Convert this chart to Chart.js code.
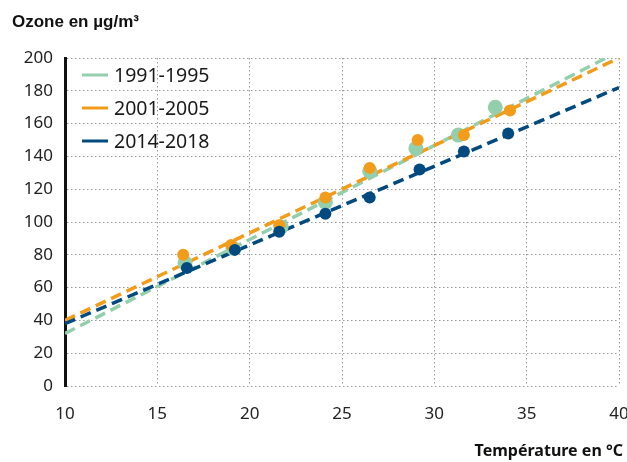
<!DOCTYPE html>
<html>
<head>
<meta charset="utf-8">
<script src="https://cdn.jsdelivr.net/npm/chart.js@4/dist/chart.umd.min.js"></script>
<style>
  html,body{margin:0;padding:0;background:#fff;}
  #wrap{width:627px;height:462px;position:relative;}
</style>
</head>
<body>
<div id="wrap"><canvas id="c" width="627" height="462"></canvas></div>
<script>
// ---- Data ----
const seriesLabels = ['1991-1995', '2001-2005', '2014-2018'];
const temps1991 = [16.5, 19.1, 21.7, 24.1, 26.5, 29.0, 31.3, 33.3];
const ozone1991 = [75, 84, 97, 112, 131, 145, 153, 170];
const temps2001 = [16.4, 19.0, 21.6, 24.1, 26.5, 29.1, 31.6, 34.1];
const ozone2001 = [80, 86, 98, 115, 133, 150, 153, 168];
const temps2014 = [16.6, 19.2, 21.6, 24.1, 26.5, 29.2, 31.6, 34.0];
const ozone2014 = [72, 83, 94, 105, 115, 132, 143, 154];
// trend lines: value at x = 10 and x = 40
const trendX = [10, 40];
const trend1991 = [32, 204];
const trend2001 = [40, 200];
const trend2014 = [38, 182];
const xTicks = [10, 15, 20, 25, 30, 35, 40];
const yTicks = [0, 20, 40, 60, 80, 100, 120, 140, 160, 180, 200];
const yTitle = 'Ozone en µg/m³';
const xTitle = 'Température en °C';

const colors = ['#93cfac', '#f39c19', '#004a7f'];

function pts(xs, ys){ return xs.map((x,i)=>({x:x, y:ys[i]})); }

const trendDs = (vals, color, order) => ({
  type:'line', data: pts(trendX, vals), borderColor: color, borderWidth: 3.5,
  borderDash:[11,6], pointRadius:0, fill:false, clip:0, order: order, tension:0
});
const scatterDs = (xs, ys, color, r, order) => ({
  type:'scatter', data: pts(xs, ys), backgroundColor: color, borderColor: color,
  borderWidth:0, pointRadius:r, pointHoverRadius:r, order: order, clip:false
});

const overlay = {
  id:'overlay',
  afterDraw(chart){
    const ctx = chart.ctx;
    ctx.save();
    ctx.fillStyle = '#111';
    ctx.font = 'bold 17px "Liberation Sans", Arial, sans-serif';
    ctx.textBaseline = 'alphabetic';
    ctx.textAlign = 'left';
    ctx.fillText(yTitle, 12, 27);
    ctx.font = 'bold 16px "Noto Sans", sans-serif';
    ctx.textAlign = 'right';
    ctx.fillText(xTitle, 623, 456);
    // legend
    const ly = [75, 108, 141];
    ctx.font = '19.5px "Noto Sans", sans-serif';
    ctx.textAlign = 'left';
    ctx.textBaseline = 'middle';
    seriesLabels.forEach((lab,i)=>{
      ctx.strokeStyle = colors[i];
      ctx.lineWidth = 3;
      ctx.beginPath();
      ctx.moveTo(82, ly[i]); ctx.lineTo(108, ly[i]);
      ctx.stroke();
      ctx.fillStyle = '#1a1a1a';
      ctx.fillText(lab, 114, ly[i]+1);
    });
    ctx.restore();
  }
};

new Chart(document.getElementById('c'), {
  data: {
    datasets: [
      trendDs(trend1991, colors[0], 6),
      trendDs(trend2001, colors[1], 5),
      trendDs(trend2014, colors[2], 4),
      scatterDs(temps1991, ozone1991, colors[0], 7.5, 3),
      scatterDs(temps2001, ozone2001, colors[1], 6, 2),
      scatterDs(temps2014, ozone2014, colors[2], 6, 1)
    ]
  },
  options: {
    responsive:false, animation:false,
    layout:{ padding:{ left:0, top:58, right:8, bottom:0 } },
    plugins:{ legend:{display:false}, tooltip:{enabled:false} },
    scales:{
      x:{
        type:'linear', min:10, max:40,
        afterBuildTicks(s){ s.ticks = xTicks.map(v=>({value:v})); },
        afterFit(s){ s.height = 76; s.paddingLeft = 0; s.paddingRight = 0; },
        grid:{ color:'#999', lineWidth:1, drawTicks:false },
        border:{ display:false, dash:[1.5,2.5] },
        ticks:{ padding:18, color:'#222', font:{ family:'"Noto Sans", sans-serif', size:17 }, maxRotation:0 }
      },
      y:{
        type:'linear', min:0, max:200,
        afterBuildTicks(s){ s.ticks = yTicks.map(v=>({value:v})); },
        afterFit(s){ s.width = 65; s.paddingTop = 0; s.paddingBottom = 0; },
        grid:{ color:'#999', lineWidth:1, drawTicks:false },
        border:{ display:true, color:'#111', width:3, dash:[1.5,2.5] },
        ticks:{ padding:12, color:'#222', font:{ family:'"Noto Sans", sans-serif', size:17 } }
      }
    }
  },
  plugins:[overlay]
});
</script>
</body>
</html>
